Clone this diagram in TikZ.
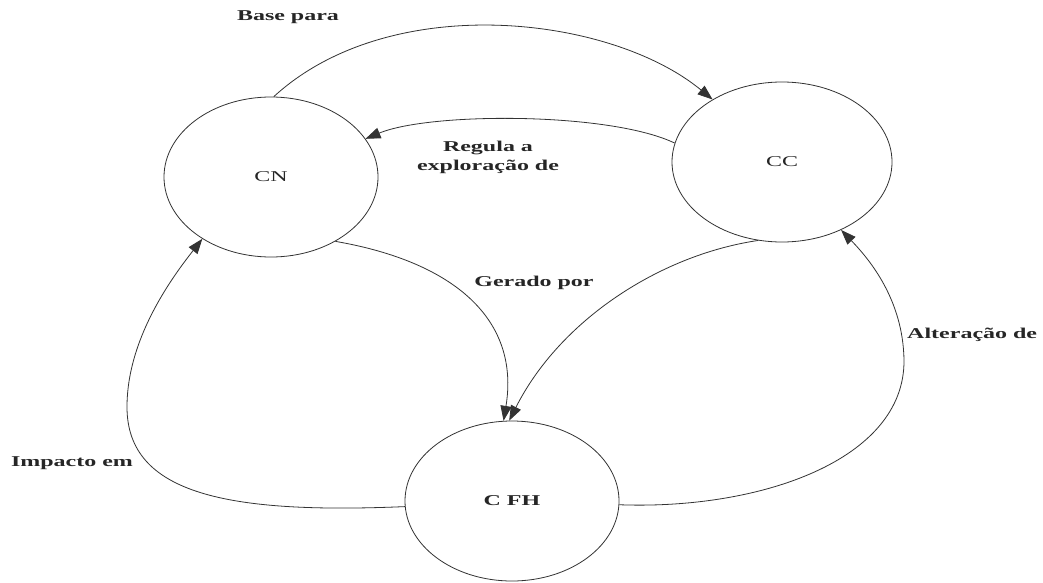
\documentclass[tikz,border=0pt]{standalone}
\usepackage{fontspec}
\setmainfont{Liberation Serif}[FakeStretch=1.6]
\usetikzlibrary{arrows.meta,shapes.geometric}
\begin{document}
\begin{tikzpicture}[x=1pt,y=-1pt,
  conc/.style={ellipse,draw=black!80,line width=0.8pt,minimum width=214pt,minimum height=160pt,inner sep=0pt,font=\fontsize{15}{18}\selectfont,text=black!85},
  rel/.style={draw=black!80,line width=0.8pt,-{Triangle[length=15pt,width=11pt]}},
  lbl/.style={font=\fontsize{15}{19}\selectfont\bfseries,text=black!85,inner sep=0pt,align=center}]
\useasboundingbox[fill=white] (0,0) rectangle (1043,583);
\node[conc] (CN) at (271,177) {CN};
\node[conc,minimum width=220pt] (CC) at (782,162) {CC};
\node[conc,font=\fontsize{15}{18}\selectfont\bfseries] (CFH) at (512,501) {C FH};
% Base para
\draw[rel] (CN.88) .. controls (390,-10) and (610,15) .. (CC.138);
% Regula a exploracao de
\draw[rel] (CC.170) .. controls (610,112) and (430,112) .. (CN.22);
% Gerado por
\draw[rel] (CN.-45) .. controls (455,262) and (520,320) .. (CFH.96);
% CC -> CFH
\draw[rel] (CC.-107) .. controls (660,255) and (560,320) .. (CFH.92);
% Alteracao de
\coordinate (altR) at (904,360);
\draw[rel] (CFH.-2) .. controls (760,510) and (905,460) .. (altR) .. controls (903,300) and (870,260) .. (CC.-49);
% Impacto em
\coordinate (impL) at (127,407);
\draw[rel] (CFH.183) .. controls (230,514) and (127,495) .. (impL) .. controls (127,340) and (170,280) .. (CN.222);
% labels
\node[lbl] (lbase) at (288,17) {Base para};
\node[lbl] (lreg) at (488,157) {Regula a\\exploração de};
\node[lbl] (lger) at (534,283) {Gerado por};
\node[lbl,anchor=west] (lalt) at (907,335) {Alteração de};
\node[lbl] (limp) at (72,463) {Impacto em};
\end{tikzpicture}
\end{document}
